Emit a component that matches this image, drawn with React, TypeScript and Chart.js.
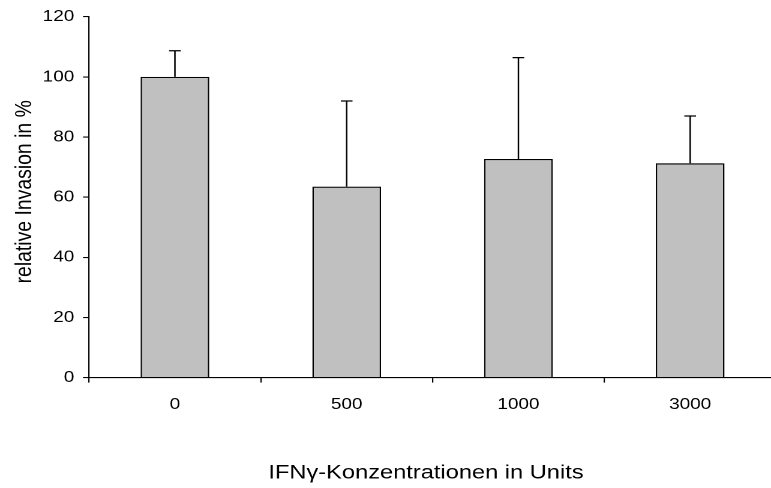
import { useEffect, useRef } from "react";
import { Chart, registerables } from "chart.js";

Chart.register(...registerables);

// IFN-gamma dose vs. relative invasion (mean + SD)
const concentrations = ["0", "500", "1000", "3000"];
const invasion = [100, 63.5, 72.7, 71.3];
const invasionSd = [8.7, 28.5, 33.7, 15.7];
const yTicks = [0, 20, 40, 60, 80, 100, 120];

const FONT = '"Liberation Sans", Arial, Helvetica, sans-serif';
// The chart is drawn on a narrower canvas and widened horizontally with CSS.
const STRETCH = 1.2;
const W = 650;
const H = 488;

const errorBars = {
  id: "errorBars",
  afterDatasetsDraw(chart: any) {
    const { ctx } = chart;
    const yScale = chart.scales.y;
    const meta = chart.getDatasetMeta(0);
    ctx.save();
    ctx.strokeStyle = "#000";
    ctx.lineWidth = 1.25;
    meta.data.forEach((bar: any, i: number) => {
      const top = yScale.getPixelForValue(invasion[i] + invasionSd[i]);
      const half = bar.width * 0.085;
      ctx.beginPath();
      ctx.moveTo(bar.x, bar.y);
      ctx.lineTo(bar.x, top);
      ctx.moveTo(bar.x - half, top);
      ctx.lineTo(bar.x + half, top);
      ctx.stroke();
    });
    ctx.restore();
  },
};

export default function App() {
  const canvasRef = useRef<HTMLCanvasElement | null>(null);

  useEffect(() => {
    if (!canvasRef.current) return;
    const chart = new Chart(canvasRef.current, {
      type: "bar",
      data: {
        labels: concentrations,
        datasets: [
          {
            data: invasion,
            backgroundColor: "#c0c0c0",
            borderColor: "#000",
            borderWidth: 1.25,
            barPercentage: 0.4,
            categoryPercentage: 1,
          },
        ],
      },
      options: {
        responsive: false,
        animation: false,
        devicePixelRatio: 2,
        layout: { padding: { left: 0, top: 15.7, right: 3.3, bottom: 0 } },
        plugins: {
          legend: { display: false },
          tooltip: { enabled: false },
        },
        scales: {
          x: {
            type: "category",
            offset: true,
            grid: {
              display: true,
              offset: true,
              drawOnChartArea: false,
              drawTicks: true,
              tickLength: 5,
              color: "#000",
              lineWidth: 1.1,
            },
            border: { display: true, color: "#000", width: 1.1 },
            ticks: {
              color: "#000",
              font: { family: FONT, size: 15.8 },
              padding: 12.5,
              maxRotation: 0,
              autoSkip: false,
            },
            title: {
              display: true,
              text: "IFNγ-Konzentrationen in Units  ",
              color: "#000",
              font: { family: FONT, size: 19.7 },
              padding: { top: 0, bottom: 3 },
            },
            afterFit(scale: any) {
              scale.height = 110.4;
            },
          },
          y: {
            min: 0,
            max: 120,
            grid: {
              display: true,
              drawOnChartArea: false,
              drawTicks: true,
              tickLength: 5,
              color: "#000",
              lineWidth: 1.1,
            },
            border: { display: true, color: "#000", width: 1.1 },
            ticks: {
              color: "#000",
              font: { family: FONT, size: 15.8 },
              padding: 7.3,
            },
            afterBuildTicks(scale: any) {
              scale.ticks = yTicks.map((v) => ({ value: v }));
            },
            title: {
              display: true,
              text: "  relative Invasion in %",
              color: "#000",
              font: { family: FONT, size: 19.4 },
              padding: { top: 9.2, bottom: 0 },
            },
            afterFit(scale: any) {
              scale.width = 74.2;
            },
          },
        },
      },
      plugins: [errorBars],
    });
    return () => chart.destroy();
  }, []);

  return (
    <div
      style={{
        position: "fixed",
        left: 0,
        top: 0,
        width: 771,
        height: 488,
        overflow: "hidden",
        background: "#fff",
      }}
    >
      <div
        style={{
          width: W,
          height: H,
          transform: `scaleX(${STRETCH})`,
          transformOrigin: "0 0",
        }}
      >
        <canvas ref={canvasRef} width={W} height={H} style={{ display: "block" }} />
      </div>
    </div>
  );
}
